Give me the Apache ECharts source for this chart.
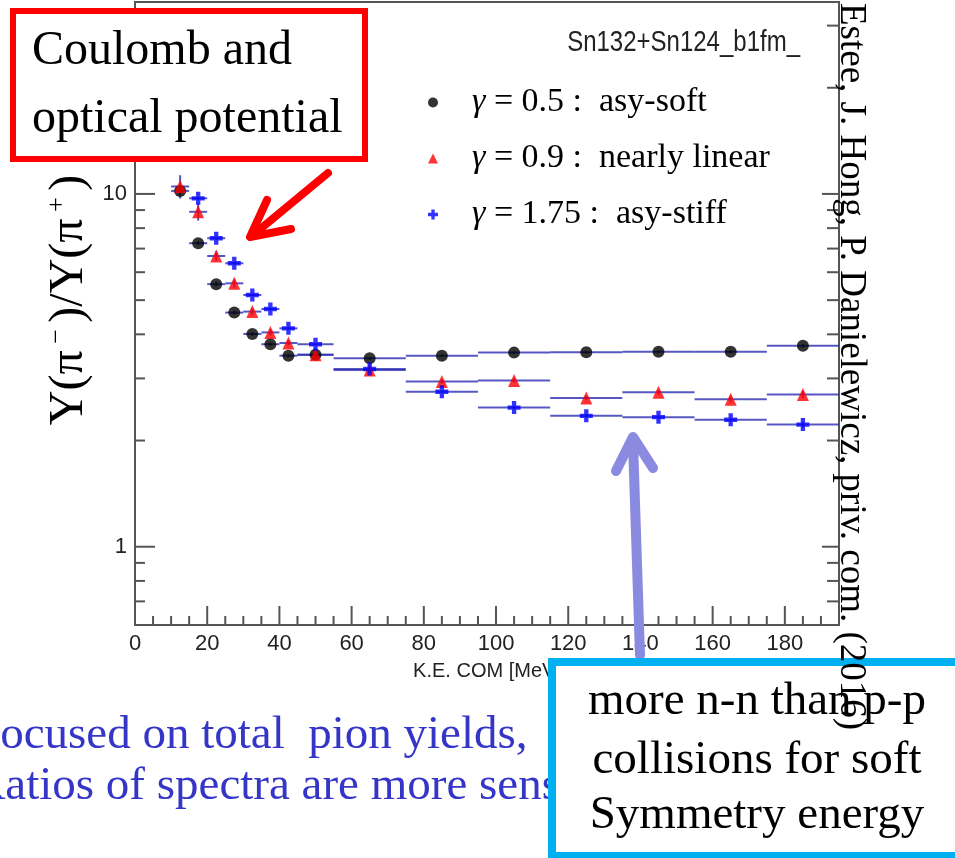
<!DOCTYPE html>
<html><head><meta charset="utf-8">
<script src="https://cdn.jsdelivr.net/npm/echarts@6/dist/echarts.min.js"></script>
<style>html,body{margin:0;padding:0;background:#fff}#c{width:955px;height:858px}</style>
</head><body><div id="c"></div>
<script>
// ---- data ----
const binCenters = [12.5, 17.5, 22.5, 27.5, 32.5, 37.5, 42.5, 50, 65, 85, 105, 125, 145, 165, 185];
const binLow     = [10, 15, 20, 25, 30, 35, 40, 45, 55, 75, 95, 115, 135, 155, 175];
const binHigh    = [15, 20, 25, 30, 35, 40, 45, 55, 75, 95, 115, 135, 155, 175, 195];
const ratioSoft   = [10.2, 7.25, 5.55, 4.61, 4.01, 3.75, 3.48, 3.50, 3.42, 3.48, 3.55, 3.56, 3.57, 3.57, 3.71];
const ratioLinear = [10.5, 8.9, 6.67, 5.58, 4.64, 4.05, 3.78, 3.50, 3.17, 2.94, 2.96, 2.64, 2.74, 2.62, 2.70];
const ratioStiff  = [null, 9.72, 7.49, 6.36, 5.17, 4.72, 4.16, 3.75, 3.19, 2.75, 2.48, 2.35, 2.33, 2.29, 2.22];
const errSoft   = [0.1, 0.1, 0.08, 0.06, 0.05, 0.05, 0.04, 0.03, 0.03, 0.03, 0.03, 0.03, 0.03, 0.03, 0.04];
const errLinear = [0.8, 0.5, 0.2, 0.15, 0.1, 0.08, 0.06, 0.05, 0.04, 0.04, 0.04, 0.04, 0.04, 0.05, 0.06];
const errStiff  = [0.1, 0.1, 0.08, 0.06, 0.05, 0.05, 0.04, 0.03, 0.03, 0.03, 0.03, 0.03, 0.03, 0.03, 0.04];
const seriesNames = ['g05', 'g09', 'g175'];
const legendLabels = ['{g|γ}{t| = 0.5 :  asy-soft}', '{g|γ}{t| = 0.9 :  nearly linear}', '{g|γ}{t| = 1.75 :  asy-stiff}'];
const xTickValues = [0,5,10,15,20,25,30,35,40,45,50,55,60,65,70,75,80,85,90,95,100,105,110,115,120,125,130,135,140,145,150,155,160,165,170,175,180,185,190];
const xMajorTicks = [0,20,40,60,80,100,120,140,160,180];
const yTickValues = [0.7,0.8,0.9,1,2,3,4,5,6,7,8,9,10,20,30];
const yMajorTicks = [1,10];
const X_MIN = 0, X_MAX = 195, Y_MIN = 0.6, Y_MAX = 35;

// ---- styling ----
const SERIF = "'Liberation Serif', 'Times New Roman', serif";
const SANS = "'Liberation Sans', Arial, sans-serif";
const AXIS_COLOR = '#555';
const ERR_COLOR = 'rgba(45,45,180,0.8)';
const PLUS = 'path://M4,0H8V4H12V8H8V12H4V8H0V4H4Z';

const chart = echarts.init(document.getElementById('c'), null, {renderer: 'canvas'});

function pts(vals) {
  return binCenters.map((c, i) => [c, vals[i]]).filter(r => r[1] != null);
}
function errRows(vals, errs) {
  return binCenters.map((c, i) => [c, vals[i], binLow[i], binHigh[i], errs[i]]).filter(r => r[1] != null);
}
function errRender(params, api) {
  const x = api.value(0), y = api.value(1), lo = api.value(2), hi = api.value(3), e = api.value(4);
  const a = api.coord([lo, y]), b = api.coord([hi, y]);
  const children = [{type: 'line', shape: {x1: a[0], y1: a[1], x2: b[0], y2: b[1]}, style: {stroke: ERR_COLOR, lineWidth: 2}}];
  if (e > 0) {
    const t = api.coord([x, y + e]), u = api.coord([x, y - e]);
    children.push({type: 'line', shape: {x1: t[0], y1: t[1], x2: u[0], y2: u[1]}, style: {stroke: ERR_COLOR, lineWidth: 2}});
  }
  return {type: 'group', children};
}
function xTickRender(params, api) {
  const v = api.value(0);
  const p = api.coord([v, Y_MIN]);
  const len = xMajorTicks.indexOf(v) >= 0 ? 19 : 9;
  return {type: 'line', shape: {x1: p[0], y1: p[1], x2: p[0], y2: p[1] - len}, style: {stroke: AXIS_COLOR, lineWidth: 2}};
}
function yTickRender(params, api) {
  const v = api.value(1);
  const l = api.coord([X_MIN, v]), r = api.coord([X_MAX, v]);
  const major = yMajorTicks.indexOf(v) >= 0;
  return {type: 'group', children: [
    {type: 'line', shape: {x1: l[0], y1: l[1], x2: l[0] + (major ? 20 : 10), y2: l[1]}, style: {stroke: AXIS_COLOR, lineWidth: 2}},
    {type: 'line', shape: {x1: r[0], y1: r[1], x2: r[0] - (major ? 17 : 12), y2: r[1]}, style: {stroke: AXIS_COLOR, lineWidth: 2}}
  ]};
}

const legendMap = {};
seriesNames.forEach((n, i) => legendMap[n] = legendLabels[i]);

const option = {
  animation: false,
  backgroundColor: '#fff',
  grid: {left: 135, right: 116, top: 2, bottom: 233, show: true, borderColor: AXIS_COLOR, borderWidth: 2, backgroundColor: 'transparent'},
  xAxis: {
    type: 'value', min: X_MIN, max: X_MAX, interval: 20,
    name: 'K.E. COM [MeV]', nameLocation: 'middle', nameGap: 36,
    nameTextStyle: {fontFamily: SANS, fontSize: 20, color: '#222'},
    axisLine: {show: true, lineStyle: {color: AXIS_COLOR, width: 2}},
    axisTick: {show: false}, splitLine: {show: false},
    axisLabel: {fontFamily: SANS, fontSize: 22, color: '#222', margin: 8, showMaxLabel: false}
  },
  yAxis: {
    type: 'log', logBase: 10, min: Y_MIN, max: Y_MAX,
    axisLine: {show: true, lineStyle: {color: AXIS_COLOR, width: 2}},
    axisTick: {show: false}, splitLine: {show: false}, minorTick: {show: false},
    axisLabel: {fontFamily: SANS, fontSize: 22, color: '#222', margin: 8, showMinLabel: false, showMaxLabel: false,
      formatter: v => String(Math.round(v))}
  },
  legend: {
    data: seriesNames, orient: 'vertical', left: 428, top: 85.5, padding: 0,
    itemWidth: 10, itemHeight: 10, itemGap: 22,
    formatter: n => legendMap[n],
    textStyle: {
      rich: {
        g: {fontFamily: SERIF, fontSize: 34, fontStyle: 'italic', color: '#000', padding: [0, 0, 0, 29], lineHeight: 34},
        t: {fontFamily: SERIF, fontSize: 34, color: '#000', lineHeight: 34}
      }
    }
  },
  series: [
    {type: 'custom', name: 'xticks', silent: true, data: xTickValues.map(v => [v, Y_MIN]), encode: {x: 0, y: 1}, renderItem: xTickRender, z: 1},
    {type: 'custom', name: 'yticks', silent: true, data: yTickValues.map(v => [X_MIN, v]), encode: {x: 0, y: 1}, renderItem: yTickRender, z: 1},
    {type: 'custom', name: 'errSoft', silent: true, data: errRows(ratioSoft, errSoft), encode: {x: 0, y: 1}, renderItem: errRender, z: 2},
    {type: 'custom', name: 'errLinear', silent: true, data: errRows(ratioLinear, errLinear), encode: {x: 0, y: 1}, renderItem: errRender, z: 2},
    {type: 'custom', name: 'errStiff', silent: true, data: errRows(ratioStiff, errStiff), encode: {x: 0, y: 1}, renderItem: errRender, z: 2},
    {type: 'scatter', name: seriesNames[0], data: pts(ratioSoft), symbol: 'circle', symbolSize: 12, itemStyle: {color: '#000'}, z: 3},
    {type: 'scatter', name: seriesNames[1], data: pts(ratioLinear), symbol: 'triangle', symbolSize: [12, 13], itemStyle: {color: '#ff0000'}, z: 4},
    {type: 'scatter', name: seriesNames[2], data: pts(ratioStiff), symbol: PLUS, symbolSize: 13, itemStyle: {color: '#0000ff'}, z: 5}
  ],
  graphic: [
    {type: 'text', x: 800, y: 43, scaleX: 0.8, style: {text: 'Sn132+Sn124_b1fm_', fontFamily: SANS, fontSize: 30, fill: '#222', align: 'right', verticalAlign: 'middle'}},
    {type: 'text', x: 69, y: 300, rotation: Math.PI / 2, style: {
      text: '{m|Y(π}{s| − }{m|)/Y(π}{s| + }{m|)}', align: 'center', verticalAlign: 'middle',
      rich: {m: {fontFamily: SERIF, fontSize: 48, fill: '#000', lineHeight: 50},
             s: {fontFamily: SERIF, fontSize: 26, fill: '#000', verticalAlign: 'top', lineHeight: 30}}
    }},
    // red annotation
    {type: 'rect', shape: {x: 13, y: 11, width: 352, height: 148}, style: {fill: '#fff', stroke: '#ff0000', lineWidth: 6}, z: 100},
    {type: 'text', x: 32, y: 51, style: {text: 'Coulomb and', fontFamily: SERIF, fontSize: 48, fill: '#000', verticalAlign: 'middle'}, z: 101},
    {type: 'text', x: 32, y: 119, style: {text: 'optical potential', fontFamily: SERIF, fontSize: 48, fill: '#000', verticalAlign: 'middle'}, z: 101},
    {type: 'polyline', shape: {points: [[328, 173], [253, 235]]}, style: {stroke: '#ff0000', lineWidth: 8, lineCap: 'round', fill: null}, z: 100},
    {type: 'polyline', shape: {points: [[267, 200], [250, 237], [291, 229]]}, style: {stroke: '#ff0000', lineWidth: 8, lineCap: 'round', lineJoin: 'round', fill: null}, z: 100},
    // lavender arrow
    {type: 'polyline', shape: {points: [[640, 655], [633, 442]]}, style: {stroke: '#8a8ae0', lineWidth: 10, lineCap: 'round', fill: null}, z: 100},
    {type: 'polyline', shape: {points: [[616, 471], [633, 437], [653, 468]]}, style: {stroke: '#8a8ae0', lineWidth: 10, lineCap: 'round', lineJoin: 'round', fill: null}, z: 100},
    // blue bottom text
    {type: 'text', x: -26, y: 736, style: {text: 'Focused on total  pion yields,', fontFamily: SERIF, fontSize: 47, fill: '#3535c8', verticalAlign: 'middle'}, z: 100},
    {type: 'text', x: -26, y: 787, style: {text: 'Ratios of spectra are more sensitive', fontFamily: SERIF, fontSize: 47, fill: '#3535c8', verticalAlign: 'middle'}, z: 100},
    // blue box
    {type: 'rect', shape: {x: 552, y: 662, width: 420, height: 194}, style: {fill: '#fff', stroke: '#00b0f0', lineWidth: 8}, z: 102},
    {type: 'text', x: 757, y: 702, style: {text: 'more n-n than p-p', fontFamily: SERIF, fontSize: 47, fill: '#000', align: 'center', verticalAlign: 'middle'}, z: 103},
    {type: 'text', x: 757, y: 761, style: {text: 'collisions for soft', fontFamily: SERIF, fontSize: 47, fill: '#000', align: 'center', verticalAlign: 'middle'}, z: 103},
    {type: 'text', x: 757, y: 816, style: {text: 'Symmetry energy', fontFamily: SERIF, fontSize: 47, fill: '#000', align: 'center', verticalAlign: 'middle'}, z: 103},
    // vertical credit text
    {type: 'text', x: 851, y: 3, rotation: -Math.PI / 2, style: {text: 'Estee, J. Hong, P. Danielewicz, priv. com. (2016)', fontFamily: SERIF, fontSize: 37, fill: '#000', align: 'left', verticalAlign: 'middle'}, z: 104}
  ]
};
chart.setOption(option);
</script>
</body></html>
